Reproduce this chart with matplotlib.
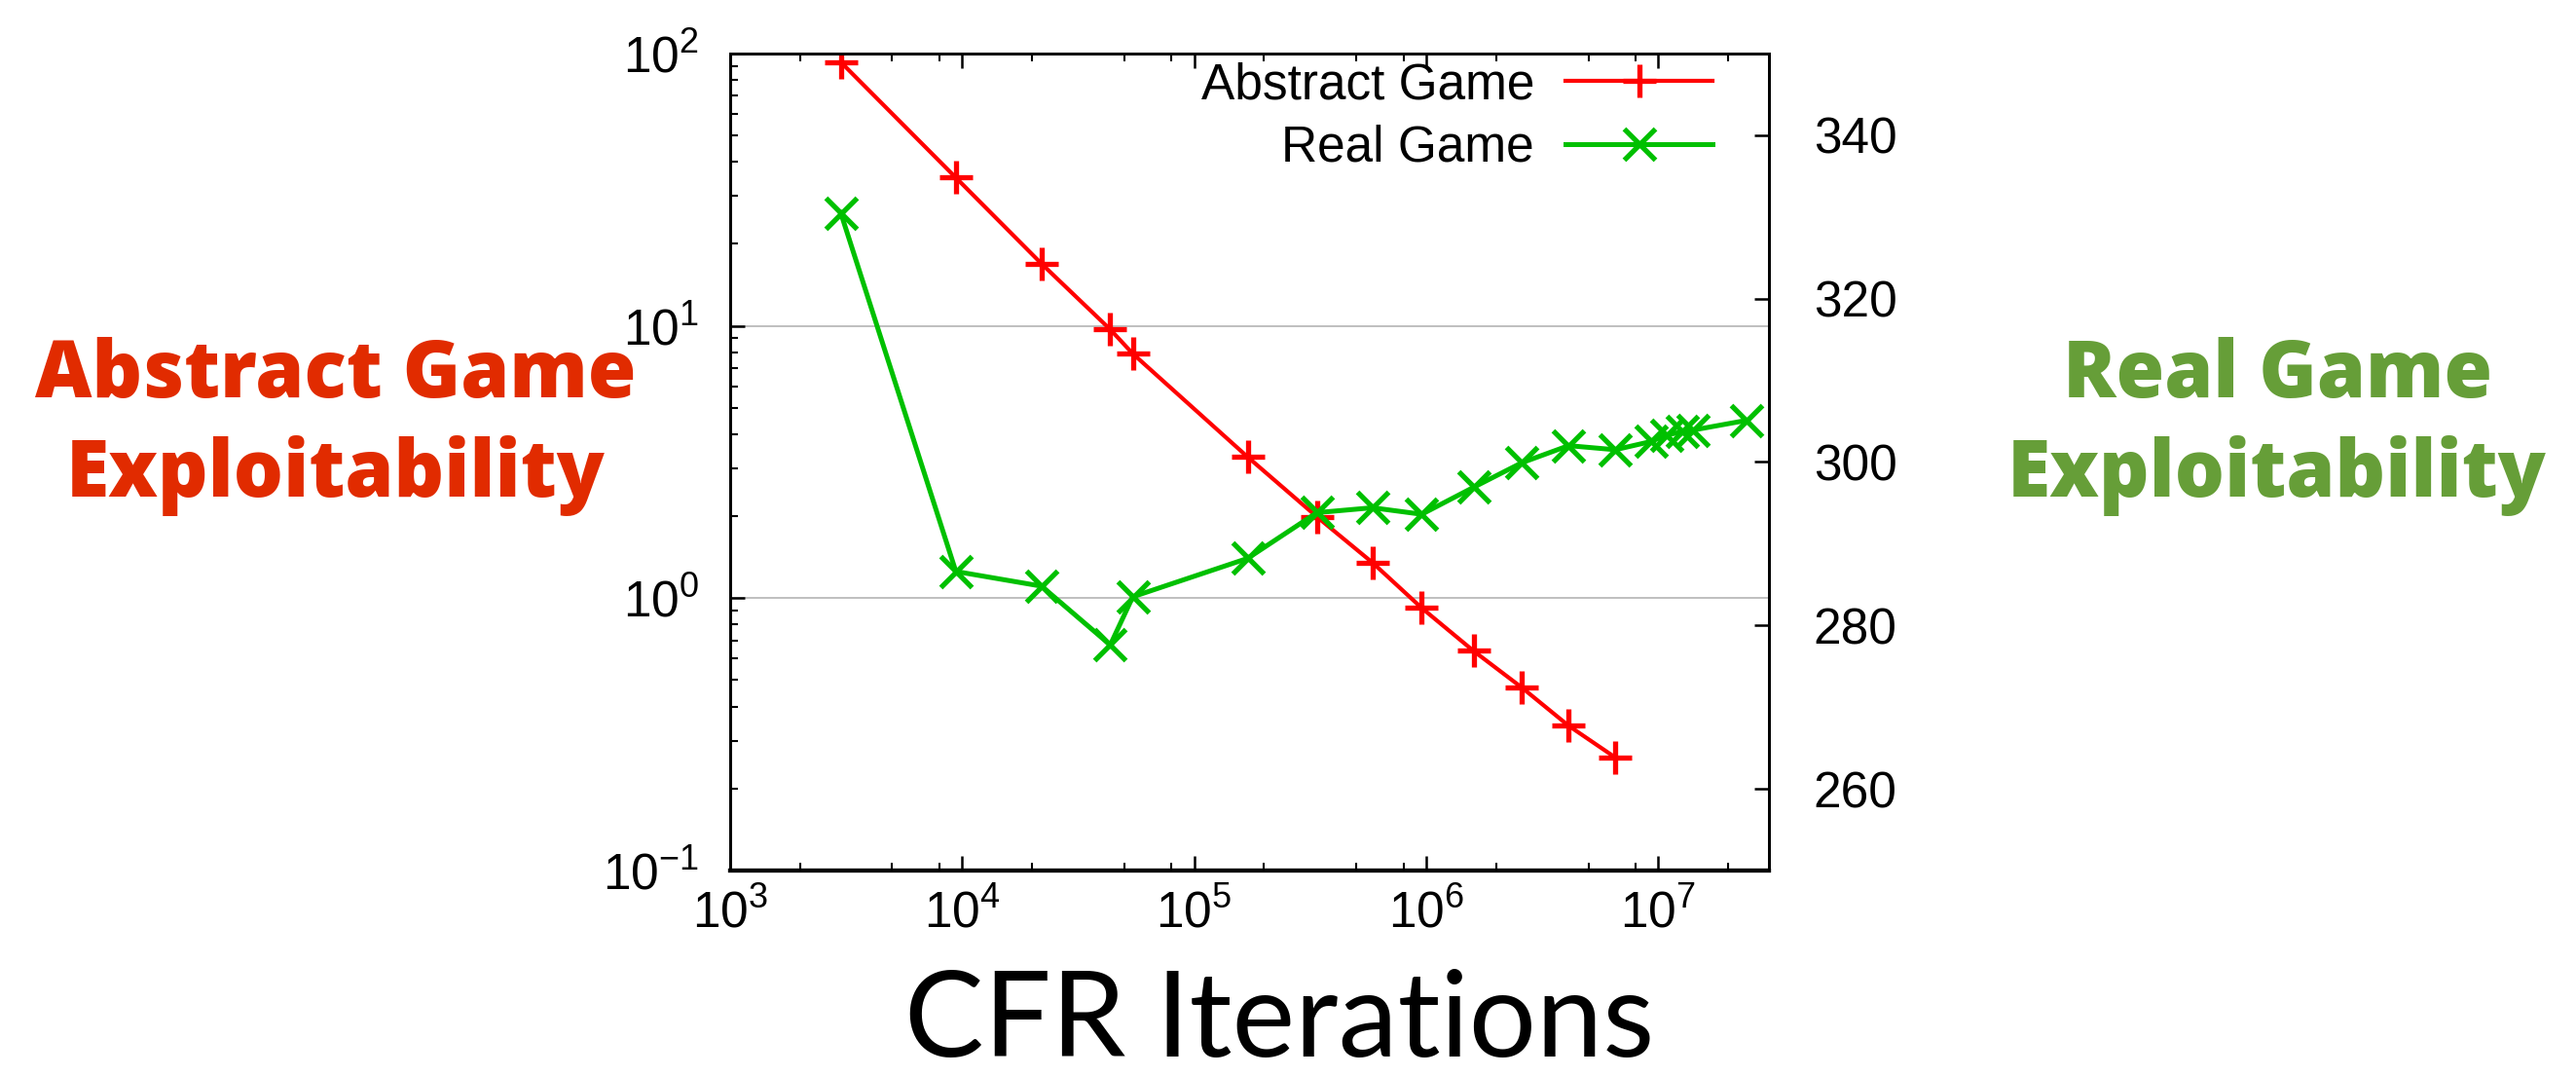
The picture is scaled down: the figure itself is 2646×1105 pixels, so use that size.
import numpy as np
import matplotlib
matplotlib.use('Agg')
import matplotlib.pyplot as plt
from matplotlib.ticker import LogLocator, MultipleLocator, NullFormatter, NullLocator

plt.rcParams['font.family'] = ['Liberation Sans', 'DejaVu Sans']
plt.rcParams['mathtext.default'] = 'regular'
plt.rcParams['axes.unicode_minus'] = False

# CFR iterations (shared x)
iters = [3000, 9400, 22000, 43500, 54400, 170000, 338000, 587000, 957000,
         1.6e6, 2.58e6, 4.11e6, 6.53e6]
iters_real = iters + [9.3e6, 1.09e7, 1.27e7, 1.41e7, 2.41e7]

# abstract game exploitability (left, log)
abstract = [93, 35, 16.9, 9.7, 7.9, 3.3, 1.99, 1.35, 0.92, 0.64, 0.47, 0.34, 0.26]
# real game exploitability (right, linear)
real = [330.5, 286.6, 284.8, 277.6, 283.5, 288.2, 293.8, 294.4, 293.6,
        296.9, 299.9, 302.0, 301.5, 302.5, 303.3, 303.7, 303.9, 305.1]

fig = plt.figure(figsize=(26.46, 11.05), dpi=100)
ax = fig.add_axes([0.2834, 0.1910, 0.4033, 0.7593])
ax2 = ax.twinx()

l1, = ax.plot(iters, abstract, color='#ff0000', lw=3, marker='+',
              ms=25, mew=3.8, label='Abstract Game')
l2, = ax2.plot(iters_real, real, color='#00c000', lw=3.6, marker='x',
               ms=23, mew=3.8, label='Real Game')

ax.set_xscale('log')
ax.set_yscale('log')
ax.set_xlim(1e3, 3e7)
ax.set_ylim(0.1, 100)
ax2.set_ylim(250, 350)

ax.xaxis.set_major_locator(LogLocator(base=10, numticks=10))
ax.xaxis.set_minor_locator(LogLocator(base=10, subs=(2, 5, 8), numticks=20))
ax.xaxis.set_minor_formatter(NullFormatter())
ax.yaxis.set_major_locator(LogLocator(base=10, numticks=10))
ax.yaxis.set_minor_locator(LogLocator(base=10, subs=np.arange(2, 10), numticks=20))
ax.yaxis.set_minor_formatter(NullFormatter())
ax2.yaxis.set_major_locator(MultipleLocator(20))
ax2.yaxis.set_minor_locator(NullLocator())

ax.tick_params(axis='both', which='major', direction='in', length=11, width=1.8,
               labelsize=37, top=True)
ax.tick_params(axis='both', which='minor', direction='in', length=5.5, width=1.5,
               top=True)
ax.tick_params(axis='x', which='major', pad=14)
ax.tick_params(axis='y', which='major', pad=23)
ax2.tick_params(axis='y', direction='in', length=11, width=1.8, labelsize=37, pad=33)

ax.yaxis.grid(True, which='major', color='#b4b4b4', lw=1.2)
ax.set_axisbelow(True)

for a in (ax, ax2):
    for s in a.spines.values():
        s.set_linewidth(2)
    a.spines['bottom'].set_linewidth(3)

leg = ax2.legend([l1, l2], ['Abstract Game', 'Real Game'], loc='upper right',
                 bbox_to_anchor=(0.9457, 0.99), frameon=False, markerfirst=False,
                 fontsize=37, handlelength=2.94, handletextpad=0.62,
                 borderpad=0, borderaxespad=0, labelspacing=0.3, numpoints=1)

side = dict(fontsize=58, family=['Open Sans', 'Lato'], weight='heavy',
            ha='center', va='baseline')
fig.text(0.1304, 0.6308, 'Abstract Game', color='#e12b00', **side)
fig.text(0.1304, 0.5385, 'Exploitability', color='#e12b00', **side)
fig.text(0.8840, 0.6308, 'Real Game', color='#669e38', **side)
fig.text(0.8840, 0.5385, 'Exploitability', color='#669e38', **side)
fig.text(0.4966, 0.018, 'CFR Iterations', color='black', fontsize=88,
         family='Lato', ha='center', va='baseline')

fig.savefig('out.png', dpi=100)
